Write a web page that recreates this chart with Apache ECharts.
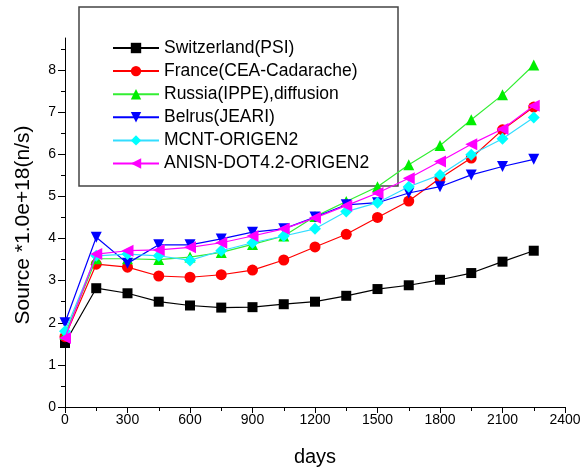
<!DOCTYPE html>
<html><head><meta charset="utf-8">
<script src="https://cdn.jsdelivr.net/npm/echarts@6/dist/echarts.min.js"></script>
<style>html,body{margin:0;padding:0;background:#fff}#c{width:587px;height:473px}</style>
</head><body><div id="c"></div>
<script>
const days = [0,150,300,450,600,750,900,1050,1200,1350,1500,1650,1800,1950,2100,2250];
const switzerland = [1.52,2.82,2.70,2.50,2.41,2.36,2.37,2.44,2.50,2.64,2.80,2.89,3.02,3.18,3.45,3.71];
const france      = [1.67,3.39,3.32,3.11,3.08,3.14,3.25,3.49,3.80,4.10,4.50,4.89,5.43,5.91,6.58,7.12];
const russia      = [1.72,3.52,3.52,3.50,3.56,3.67,3.86,4.06,4.52,4.88,5.23,5.75,6.21,6.82,7.41,8.12];
const belrus      = [2.00,4.03,3.41,3.85,3.85,3.99,4.15,4.23,4.51,4.80,4.85,5.08,5.23,5.51,5.71,5.88];
const mcnt        = [1.80,3.59,3.63,3.59,3.48,3.71,3.90,4.06,4.23,4.64,4.85,5.23,5.51,5.99,6.37,6.87];
const anisn       = [1.64,3.63,3.71,3.73,3.79,3.90,4.06,4.23,4.49,4.78,5.08,5.43,5.83,6.24,6.60,7.15];
const seriesNames = ['Switzerland(PSI)','France(CEA-Cadarache)','Russia(IPPE),diffusion','Belrus(JEARI)','MCNT-ORIGEN2','ANISN-DOT4.2-ORIGEN2'];
const yMajor = [0,1,2,3,4,5,6,7,8];
const yMinor = [0.5,1.5,2.5,3.5,4.5,5.5,6.5,7.5,8.5];

const FONT = 'Liberation Sans, Arial, sans-serif';
const styles = [
  {color:'#000000', symbol:'rect', size:10, rot:0},
  {color:'#ff0000', symbol:'circle', size:11, rot:0},
  {color:'#33ee33', symbol:'triangle', size:11, rot:0, sym:'#00ee00'},
  {color:'#0000ff', symbol:'triangle', size:11, rot:180},
  {color:'#00ffff', symbol:'diamond', size:12, rot:0, line:'#33ddff'},
  {color:'#ff00ff', symbol:'triangle', size:12, rot:90}
];
const values = [switzerland, france, russia, belrus, mcnt, anisn];

const chart = echarts.init(document.getElementById('c'), null, {renderer:'canvas'});
chart.setOption({
  animation:false,
  backgroundColor:'#fff',
  grid:{left:65, right:22, top:38, bottom:66},
  graphic:[{type:'rect', shape:{x:79, y:7, width:319, height:179}, style:{fill:'#fff', stroke:'#444', lineWidth:1.5}, z:5}],
  legend:{
    orient:'vertical', left:112, top:39, itemWidth:46, itemHeight:13, itemGap:5.1,
    textStyle:{fontFamily:FONT, fontSize:17.5, lineHeight:17.5, color:'#000'},
    data:seriesNames, z:10, padding:0
  },
  xAxis:{
    type:'value', min:0, max:2400, interval:300,
    name:'days', nameLocation:'middle', nameGap:40,
    nameTextStyle:{fontFamily:FONT, fontSize:20, color:'#000'},
    axisLine:{lineStyle:{color:'#000', width:1}},
    axisTick:{length:6, lineStyle:{color:'#000'}},
    minorTick:{show:true, splitNumber:2, length:4, lineStyle:{color:'#000'}},
    axisLabel:{fontFamily:FONT, fontSize:14, color:'#000', margin:6, showMaxLabel:true, formatter:v=>String(v)},
    splitLine:{show:false}
  },
  yAxis:[{
    type:'value', min:0, max:8.76,
    name:'Source *1.0e+18(n/s)', nameLocation:'middle', nameGap:31, nameRotate:90,
    nameTextStyle:{fontFamily:FONT, fontSize:21, color:'#000', padding:[0,5,0,0]},
    axisLine:{show:true, lineStyle:{color:'#000', width:1}},
    axisTick:{show:true, length:7, customValues:yMajor, lineStyle:{color:'#000'}},
    axisLabel:{fontFamily:FONT, fontSize:14, color:'#000', margin:9, customValues:yMajor},
    splitLine:{show:false}
  },{
    type:'value', min:0, max:8.76, position:'left',
    axisLine:{show:false},
    axisTick:{show:true, length:4, customValues:yMinor, lineStyle:{color:'#000'}},
    axisLabel:{show:false},
    splitLine:{show:false}
  }],
  series: seriesNames.map((n,i)=>({
    name:n, type:'line', yAxisIndex:0,
    data: days.map((d,j)=>[d, values[i][j]]),
    symbol: styles[i].symbol, symbolSize: styles[i].size, symbolRotate: styles[i].rot,
    itemStyle:{color: styles[i].sym || styles[i].color},
    lineStyle:{color: styles[i].line || styles[i].color, width:1.2},
    z: 3+i
  }))
});
</script></body></html>
